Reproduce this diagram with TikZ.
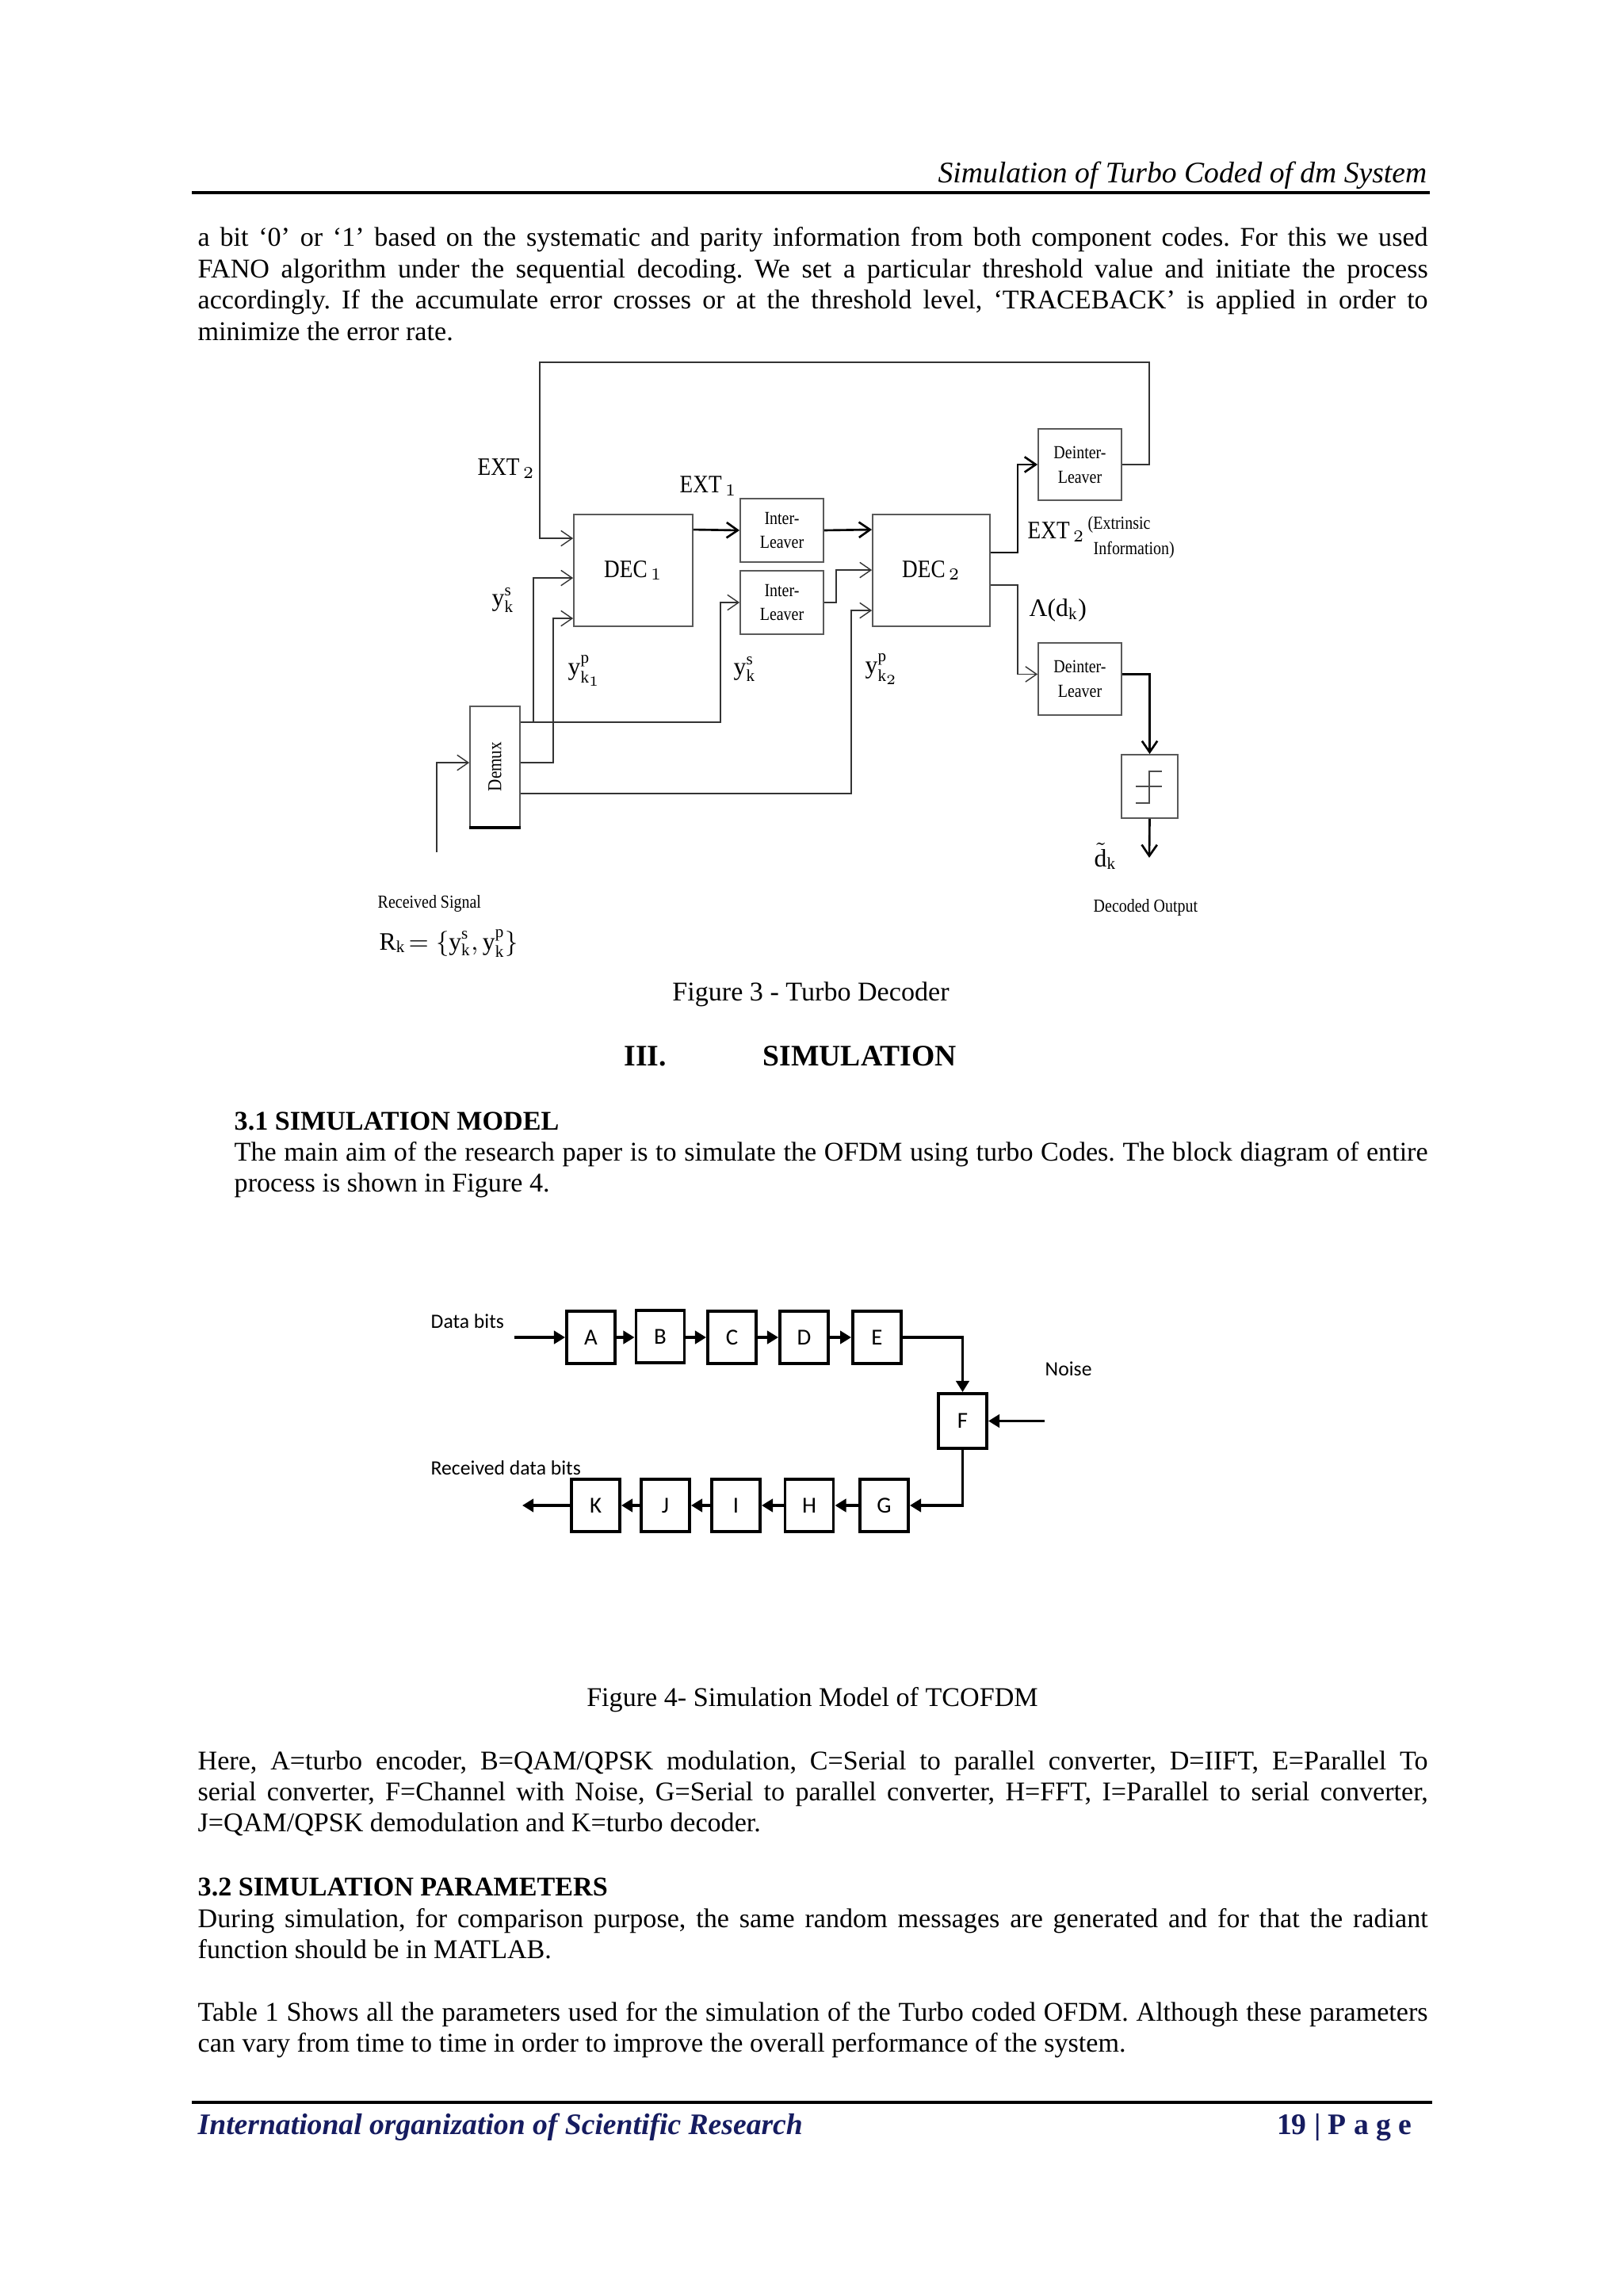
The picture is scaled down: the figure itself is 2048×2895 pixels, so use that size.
\documentclass[tikz,border=0pt]{standalone}
\usepackage{fontspec}
\setmainfont{Liberation Serif}
\newfontfamily\carlito{Carlito}
\newfontfamily\figserif[FakeStretch=0.86]{Liberation Serif}
\usepackage{graphicx}
\usetikzlibrary{arrows.meta,calc}
\definecolor{navy}{RGB}{22,28,96}
\frenchspacing
\newcommand\bodyfont{\fontsize{9.7}{11.2}\selectfont}
\newcommand\figfont{\fontsize{9}{10.5}\selectfont}
\newcommand\smallfig{\figserif\fontsize{6.6}{8.8}\selectfont}
\newcommand\jl[1]{\makebox[\linewidth][s]{#1}}
\begin{document}
\begin{tikzpicture}[x=0.01cm,y=-0.01cm,
  every node/.style={inner sep=0},
  body/.style={anchor=base west, font=\bodyfont},
  lbl/.style={anchor=base west, font=\figfont},
  slbl/.style={anchor=base west, font=\smallfig},
  blk/.style={draw=black!65, line width=0.5pt},
  ln/.style={draw=black!80, line width=0.4pt},
  thk/.style={draw=black, line width=0.75pt},
  sarr/.style={-{Straight Barb[length=4pt,width=5.5pt]}},
  fbox/.style={draw=black, line width=1.1pt, minimum width=0.61cm, minimum height=0.66cm, font=\carlito\fontsize{8.2}{9}\selectfont},
  farr/.style={draw=black, line width=1.1pt, -{Triangle[length=4pt,width=4.6pt]}},
  flbl/.style={anchor=west, font=\carlito\fontsize{7.3}{9}\selectfont}]
\fill[white] (0,0) rectangle (2048,2895);
\useasboundingbox (0,0) rectangle (2048,2895);

% ---------- header ----------
\node[anchor=base east, font=\fontsize{10.7}{12}\selectfont\itshape] (hdr) at (1801,231) {Simulation of Turbo Coded of dm System};
\draw[line width=1.3pt] (242,243) -- (1804,243);

\node[body] (p1) at (249,311) {\parbox[t]{15.51cm}{\bodyfont
\jl{a bit ‘0’ or ‘1’ based on the systematic and parity information from both component codes. For this we used}\\
\jl{FANO algorithm under the sequential decoding. We set a particular threshold value and initiate the process}\\
\jl{accordingly. If the accumulate error crosses or at the threshold level, ‘TRACEBACK’ is applied in order to}\\
minimize the error rate.}};

% ---------- Figure 3 ----------
\node[blk, minimum width=1.5cm, minimum height=1.41cm, font=\figserif\figfont] (dec1) at (799,719.5) {DEC$_{\,1}$};
\node[blk, minimum width=1.05cm, minimum height=0.8cm, font=\smallfig, align=center] (il1) at (986.5,669) {Inter-\\Leaver};
\node[blk, minimum width=1.05cm, minimum height=0.8cm, font=\smallfig, align=center] (il2) at (986.5,760) {Inter-\\Leaver};
\node[blk, minimum width=1.48cm, minimum height=1.41cm, font=\figserif\figfont] (dec2) at (1175,719.5) {DEC$_{\,2}$};
\node[blk, minimum width=1.05cm, minimum height=0.9cm, font=\smallfig, align=center] (dil1) at (1362.5,586) {Deinter-\\Leaver};
\node[blk, minimum width=1.05cm, minimum height=0.91cm, font=\smallfig, align=center] (dil2) at (1362.5,856.5) {Deinter-\\Leaver};
\node[blk, minimum width=0.71cm, minimum height=0.8cm] (thr) at (1450.5,992) {};
\node[blk, minimum width=0.63cm, minimum height=1.52cm] (demux) at (624.5,967) {};
\node[rotate=90, font=\smallfig\fontsize{7}{8}\selectfont] (demuxlbl) at (demux.center) {Demux};
\draw[line width=1pt] (demux.south west) -- (demux.south east);

% threshold symbol
\draw[black!70, line width=0.5pt] (1433,992) -- (1466,992);
\draw[black!70, line width=0.5pt] (1433,1013) -- (1450,1013) -- (1450,973) -- (1466,973);

\coordinate (fbR) at (1450,457);
\coordinate (fbL) at (681,457);
\coordinate (rx) at (551,1075);
\coordinate (dout) at (1450,1082);

\draw[ln,sarr] (dil1.east) -| (fbR) -- (fbL) |- ($(dec1.north west)+(0,31)$);
\draw[ln,sarr] ($(demux.north east)+(0,21)$) -| ($(il2.west)+(-24,0)$) -- (il2.west);
\draw[ln,sarr] ($(demux.north east)+(16,21)$) |- ($(dec1.north west)+(0,81)$);
\draw[ln,sarr] ($(demux.north east)+(0,72)$) -| ($(dec1.north west)+(-25,132)$) -- ($(dec1.north west)+(0,132)$);
\draw[ln,sarr] ($(demux.north east)+(0,111)$) -| ($(dec2.north west)+(-26,122)$) -- ($(dec2.north west)+(0,122)$);
\draw[ln,sarr] (rx) |- ($(demux.north west)+(0,72)$);
\draw[thk,sarr] ($(dec1.north east)+(0,20)$) -- (il1.west);
\draw[thk,sarr] (il1.east) -- ($(dec2.north west)+(0,20)$);
\draw[ln,sarr] (il2.east) -| ($(dec2.north west)+(-45,71)$) -- ($(dec2.north west)+(0,71)$);
\draw[thk,sarr] ($(dec2.north east)+(0,49)$) -| ($(dil1.west)+(-25,0)$) -- (dil1.west);
\draw[ln,sarr] ($(dec2.north east)+(0,90)$) -| ($(dil2.west)+(-25,-6)$) -- ($(dil2.west)+(0,-6)$);
\draw[thk,sarr] ($(dil2.east)+(0,-6)$) -| (thr.north);
\draw[thk,sarr] (thr.south) -- (dout);

% labels figure 3
\node[lbl, font=\figserif\figfont] (lext2a) at (602,600) {EXT$_{\,2}$};
\node[lbl, font=\figserif\figfont] (lext1) at (857,622) {EXT$_{\,1}$};
\node[lbl, font=\figserif\figfont] (lext2b) at (1296,680) {EXT$_{\,2}$};
\node[slbl] (lextr1) at (1372,668) {(Extrinsic};
\node[slbl] (lextr2) at (1379,700) {Information)};
\node[lbl] (llam) at (1298,778) {Λ(d$_{\mathrm{k}}$)};
\node[lbl] (lys1) at (620,765) {$\mathrm{y}^{\mathrm{s}}_{\mathrm{k}}$};
\node[lbl] (lyp1) at (716,852) {$\mathrm{y}^{\mathrm{p}}_{\mathrm{k}_1}$};
\node[lbl] (lys2) at (925,852) {$\mathrm{y}^{\mathrm{s}}_{\mathrm{k}}$};
\node[lbl] (lyp2) at (1091,850) {$\mathrm{y}^{\mathrm{p}}_{\mathrm{k}_2}$};
\node[lbl] (ldk) at (1380,1093) {$\tilde{\mathrm{d}}_{\mathrm{k}}$};
\node[slbl] (ldec) at (1379,1150) {Decoded Output};
\node[slbl] (lrec) at (476,1145) {Received Signal};
\node[lbl] (lrk) at (478,1198) {$\mathrm{R}_{\mathrm{k}}\!=\{\mathrm{y}^{\mathrm{s}}_{\mathrm{k}},\mathrm{y}^{\mathrm{p}}_{\mathrm{k}}\}$};

\node[anchor=base, font=\bodyfont] (cap3) at (1023,1262) {Figure 3 - Turbo Decoder};

% ---------- Section ----------
\node[body, font=\fontsize{10.7}{12}\selectfont\bfseries] (sec1) at (787,1344) {III.};
\node[body, font=\fontsize{10.7}{12}\selectfont\bfseries] (sec2) at (962,1344) {SIMULATION};
\node[body, font=\bodyfont\bfseries] (sub1) at (295,1425) {3.1 SIMULATION MODEL};
\node[body] (p2) at (295,1464) {\parbox[t]{15.05cm}{\bodyfont
\jl{The main aim of the research paper is to simulate the OFDM using turbo Codes. The block diagram of entire}\\
process is shown in Figure 4.}};

% ---------- Figure 4 ----------
\node[fbox] (A) at (745.5,1687) {A};
\node[fbox] (B) at (833,1686) {B};
\node[fbox] (C) at (923.5,1687) {C};
\node[fbox] (D) at (1014.5,1687) {D};
\node[fbox] (E) at (1106.5,1687) {E};
\node[fbox, minimum height=0.69cm] (F) at (1214.5,1792.5) {F};
\node[fbox] (G) at (1115.5,1899) {G};
\node[fbox] (H) at (1021,1899) {H};
\node[fbox] (I) at (928.5,1899) {I};
\node[fbox] (J) at (839.5,1899) {J};
\node[fbox] (K) at (751.5,1899) {K};
\coordinate (din) at (649,1687);
\coordinate (noise) at (1318,1792.5);
\coordinate (dout4) at (659,1899);
\draw[farr] (din) -- (A.west);
\draw[farr] (A.east) -- (B.west |- A.east);
\draw[farr] (B.east |- C.west) -- (C.west);
\draw[farr] (C.east) -- (D.west);
\draw[farr] (D.east) -- (E.west);
\draw[farr] (E.east) -| (F.north);
\draw[farr] (noise) -- (F.east);
\draw[farr] (F.south) |- (G.east);
\draw[farr] (G.west) -- (H.east);
\draw[farr] (H.west) -- (I.east);
\draw[farr] (I.west) -- (J.east);
\draw[farr] (J.west) -- (K.east);
\draw[farr] (K.west) -- (dout4);
\node[flbl] (ldata) at (543,1667) {Data bits};
\node[flbl] (lnoise) at (1318,1727) {Noise};
\node[flbl] (lrecv) at (543,1852) {Received data bits};

\node[anchor=base, font=\bodyfont] (cap4) at (1025,2152) {Figure 4- Simulation Model of TCOFDM};

\node[body] (p3) at (249,2232) {\parbox[t]{15.51cm}{\bodyfont
\jl{Here, A=turbo encoder, B=QAM/QPSK modulation, C=Serial to parallel converter, D=IIFT, E=Parallel To}\\
\jl{serial converter, F=Channel with Noise, G=Serial to parallel converter, H=FFT, I=Parallel to serial converter,}\\
J=QAM/QPSK demodulation and K=turbo decoder.}};

\node[body, font=\bodyfont\bfseries] (sub2) at (249,2391) {3.2 SIMULATION PARAMETERS};
\node[body] (p4) at (249,2431) {\parbox[t]{15.51cm}{\bodyfont
\jl{During simulation, for comparison purpose, the same random messages are generated and for that the radiant}\\
function should be in MATLAB.}};
\node[body] (p5) at (249,2549) {\parbox[t]{15.51cm}{\bodyfont
\jl{Table 1 Shows all the parameters used for the simulation of the Turbo coded OFDM. Although these parameters}\\
can vary from time to time in order to improve the overall performance of the system.}};

% ---------- footer ----------
\draw[line width=1.3pt] (242,2652) -- (1807,2652);
\node[anchor=base west, font=\fontsize{10.7}{12}\selectfont\bfseries\itshape, text=navy] (ftl) at (249,2692) {International organization of Scientific Research};
\node[anchor=base east, font=\fontsize{10.7}{12}\selectfont\bfseries, text=navy] (ftr) at (1782,2692) {19 | P a g e};
\end{tikzpicture}
\end{document}
